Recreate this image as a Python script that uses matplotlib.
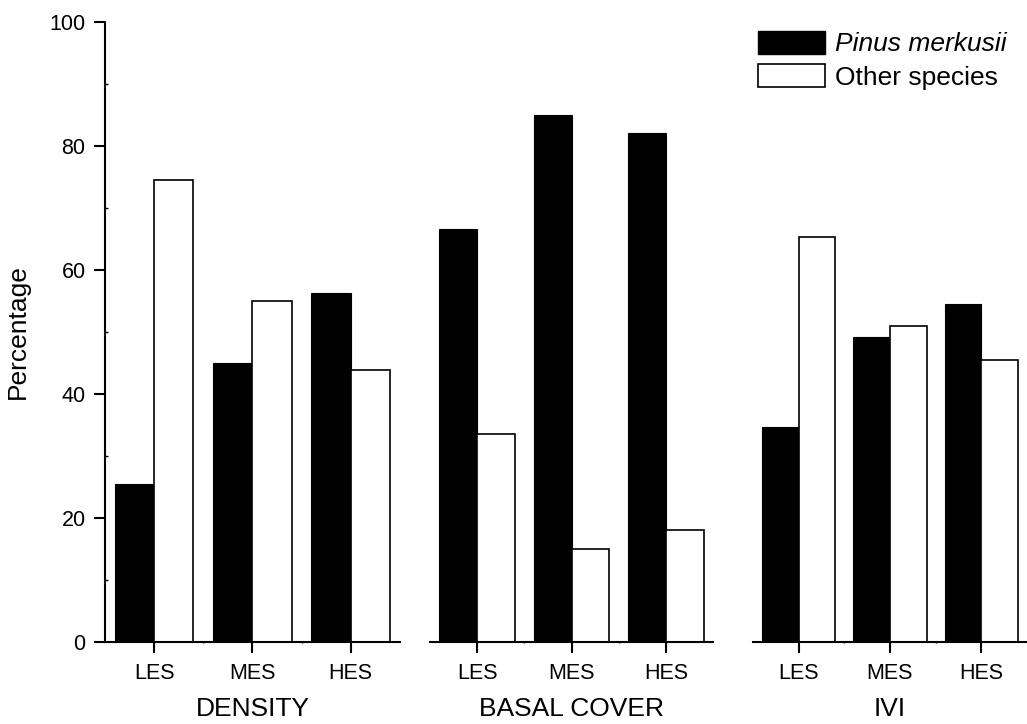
import matplotlib.pyplot as plt
from matplotlib.patches import Patch

plt.rcParams['font.family'] = ['Liberation Sans', 'DejaVu Sans']

groups = ['LES', 'MES', 'HES']
panels = ['DENSITY', 'BASAL COVER', 'IVI']
pinus = [[25.5, 45.0, 56.2], [66.5, 85.0, 82.0], [34.7, 49.1, 54.5]]
other = [[74.5, 55.0, 43.8], [33.5, 15.0, 18.0], [65.3, 50.9, 45.5]]
yticks = [0, 20, 40, 60, 80, 100]

fig = plt.figure(figsize=(10.27, 7.24), dpi=100)
boxes = [[0.1022, 0.1137, 0.2872, 0.8563],
         [0.4187, 0.1137, 0.2756, 0.8563],
         [0.7332, 0.1137, 0.2668, 0.8563]]

x = [1, 2, 3]
for i in range(3):
    ax = fig.add_axes(boxes[i])
    ax.bar([v - 0.2 for v in x], pinus[i], width=0.4, color='black',
           edgecolor='black', linewidth=0.8)
    ax.bar([v + 0.2 for v in x], other[i], width=0.4, color='white',
           edgecolor='black', linewidth=1.2)
    ax.set_xlim(0.5, 3.5)
    ax.set_ylim(0, 100)
    ax.spines['top'].set_visible(False)
    ax.spines['right'].set_visible(False)
    ax.spines['bottom'].set_linewidth(1.5)
    ax.set_xticks(x)
    ax.set_xticklabels(groups, fontsize=15.5)
    ax.set_xticks([1.5, 2.5], minor=True)
    ax.tick_params(axis='x', which='major', length=8, width=1.5, pad=7)
    ax.tick_params(axis='x', which='minor', length=2, width=1.0, direction='inout')
    ax.set_xlabel(panels[i], fontsize=19, labelpad=10)
    if i == 0:
        ax.spines['left'].set_linewidth(1.5)
        ax.set_yticks(yticks)
        ax.set_yticks([10, 30, 50, 70, 90], minor=True)
        ax.tick_params(axis='y', which='major', length=8, width=1.5, labelsize=15.5, pad=6)
        ax.tick_params(axis='y', which='minor', length=2, width=1.0, direction='in')
        ax.set_ylabel('Percentage', fontsize=19, labelpad=14)
    else:
        ax.spines['left'].set_visible(False)
        ax.set_yticks([])

handles = [Patch(facecolor='black', edgecolor='black', linewidth=1.0),
           Patch(facecolor='white', edgecolor='black', linewidth=1.2)]
leg = fig.legend(handles, ['Pinus merkusii', 'Other species'],
                 loc='upper left', bbox_to_anchor=(758 / 1027, 1 - 31 / 724),
                 frameon=False, fontsize=19, borderpad=0, borderaxespad=0,
                 handlelength=2.55, handleheight=0.95, handletextpad=0.35,
                 labelspacing=0.3)
leg.get_texts()[0].set_style('italic')

fig.savefig('out.png', dpi=100)
